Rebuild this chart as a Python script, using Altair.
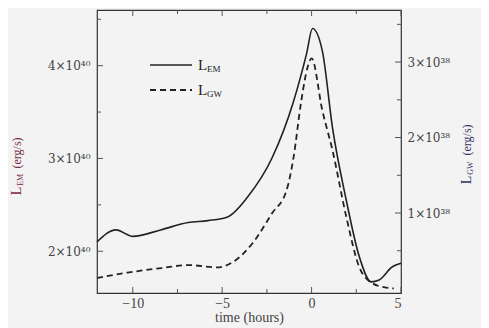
import altair as alt
import pandas as pd

# L_EM (units of 1e40 erg/s) vs time (hours)
em_t = [-12, -10.94, -10.0, -8.44, -6.9, -5.8, -4.7, -3.6, -2.2, -1.05, -0.28, 0.05, 0.6, 1.17, 1.94, 2.67, 3.33, 3.78, 4.5, 5.0]
em_v = [2.10, 2.23, 2.16, 2.23, 2.31, 2.33, 2.37, 2.58, 3.01, 3.59, 4.13, 4.40, 4.16, 3.33, 2.55, 1.94, 1.67, 1.69, 1.83, 1.87]

# L_GW (units of 1e38 erg/s) vs time (hours)
gw_t = [-12, -10.3, -8.4, -6.9, -5.3, -4.4, -3.3, -2.2, -1.4, -1.0, -0.6, -0.2, 0.0, 0.6, 1.17, 1.94, 2.67, 3.4, 4.2, 4.6]
gw_v = [0.14, 0.21, 0.27, 0.31, 0.28, 0.35, 0.60, 1.00, 1.30, 1.75, 2.45, 2.95, 3.05, 2.36, 1.83, 0.95, 0.28, 0.07, 0.01, 0.0]

x_ticks_major = [-10, -5, 0, 5]
x_ticks_minor = [-7.5, -2.5, 2.5]
left_major = [2, 3, 4]
left_minor = [2.5, 3.5, 4.5]
right_major = [1, 2, 3]
right_minor = [0.5, 1.5, 2.5, 3.5]

X_DOM = [-12, 5]
L_DOM = [1.55, 4.6]
R_DOM = [-0.06, 3.69]
W, H = 304, 283
FONT = "Liberation Serif"
LFONT = "DejaVu Serif"
LINE = "#222222"
TICK = "#555555"

em = pd.DataFrame({"t": em_t, "v": em_v})
gw = pd.DataFrame({"t": gw_t, "v": gw_v})

xs = alt.Scale(domain=X_DOM, nice=False, zero=False)
ls = alt.Scale(domain=L_DOM, nice=False, zero=False)
rs = alt.Scale(domain=R_DOM, nice=False, zero=False)

xaxis = alt.Axis(values=x_ticks_major, title="time (hours)", grid=False, domain=False,
                 ticks=False, labelPadding=3, labelFont=FONT, labelFontSize=14,
                 labelColor="#444", titleFont=FONT, titleFontSize=14, titleFontWeight="normal",
                 titleColor="#444", titlePadding=0, format="d")

left_axis = alt.Axis(values=left_major, orient="left", title=None, grid=False, domain=False,
                     ticks=False, labelExpr="datum.value + '×10⁴⁰'", labelFont=LFONT,
                     labelFontSize=12, labelColor="#444", labelPadding=7)
right_axis = alt.Axis(values=right_major, orient="right", title=None, grid=False, domain=False,
                      ticks=False, labelExpr="datum.value + '×10³⁸'", labelFont=LFONT,
                      labelFontSize=12, labelColor="#444", labelPadding=6)

em_line = alt.Chart(em).mark_line(color=LINE, strokeWidth=1.6, interpolate="monotone").encode(
    x=alt.X("t:Q", scale=xs, axis=xaxis),
    y=alt.Y("v:Q", scale=ls, axis=left_axis),
)

gw_line = alt.Chart(gw).mark_line(color=LINE, strokeWidth=1.8, strokeDash=[6, 4],
                                   interpolate="monotone").encode(
    x=alt.X("t:Q", scale=xs, axis=xaxis),
    y=alt.Y("v:Q", scale=rs, axis=right_axis),
)


def ytick_layer(vals, scale, axis, side, length):
    d = pd.DataFrame({"v": vals})
    if side == "left":
        x0, x1 = 0, length
    else:
        x0, x1 = W - length, W
    return alt.Chart(d).mark_rule(color=TICK).encode(
        y=alt.Y("v:Q", scale=scale, axis=axis), x=alt.value(x0), x2=alt.value(x1))


def xtick_layers(vals, length):
    d = pd.DataFrame({"t": vals})
    bot = alt.Chart(d).mark_rule(color=TICK).encode(
        x=alt.X("t:Q", scale=xs, axis=xaxis), y=alt.value(H), y2=alt.value(H - length))
    top = alt.Chart(d).mark_rule(color=TICK).encode(
        x=alt.X("t:Q", scale=xs, axis=xaxis), y=alt.value(0), y2=alt.value(length))
    return [bot, top]


left_group = alt.layer(
    em_line,
    ytick_layer(left_major, ls, left_axis, "left", 6),
    ytick_layer(left_minor, ls, left_axis, "left", 4),
    *xtick_layers(x_ticks_major, 6),
    *xtick_layers(x_ticks_minor, 4),
)
right_group = alt.layer(
    gw_line,
    ytick_layer(right_major, rs, right_axis, "right", 6),
    ytick_layer(right_minor, rs, right_axis, "right", 4),
)

overlay = []
# legend
overlay.append(alt.Chart(pd.DataFrame({"k": ["EM"]})).mark_rule(color=LINE, strokeWidth=1.6).encode(
    x=alt.value(53), x2=alt.value(95), y=alt.value(55)))
overlay.append(alt.Chart(pd.DataFrame({"k": ["GW"]})).mark_rule(color=LINE, strokeWidth=1.8,
                                                                 strokeDash=[6, 4]).encode(
    x=alt.value(53), x2=alt.value(95), y=alt.value(80)))
for yy, sub in [(55, "EM"), (80, "GW")]:
    overlay.append(alt.Chart(pd.DataFrame({"s": ["L"]})).mark_text(
        font=FONT, fontSize=15, color="#222", align="left", baseline="middle").encode(
        text="s:N", x=alt.value(101), y=alt.value(yy)))
    overlay.append(alt.Chart(pd.DataFrame({"s": [sub]})).mark_text(
        font=FONT, fontSize=9, color="#222", align="left", baseline="middle").encode(
        text="s:N", x=alt.value(110), y=alt.value(yy + 4)))

# axis titles (rotated)
def vtext(s, size, color, x, y):
    return alt.Chart(pd.DataFrame({"s": [s]})).mark_text(
        font=FONT, fontSize=size, color=color, angle=270, align="center", baseline="middle").encode(
        text="s:N", x=alt.value(x), y=alt.value(y))

EMC = "#7a2a45"
GWC = "#33336a"
overlay += [
    vtext("L", 14, EMC, -80, 181),
    vtext("EM", 8, EMC, -76, 170),
    vtext("(erg/s)", 12, EMC, -80, 143),
    vtext("L", 14, GWC, W + 66, 170),
    vtext("GW", 8, GWC, W + 70, 158),
    vtext("(erg/s)", 12, GWC, W + 66, 130),
]

chart = alt.layer(left_group, right_group, *overlay).resolve_scale(
    y="independent"
).properties(
    width=W, height=H,
    autosize=alt.AutoSizeParams(type="none"),
    padding={"left": 89, "top": 2, "right": 80, "bottom": 35},
    background="#f3f3f3",
).configure_view(stroke="#333", strokeWidth=1.2)

chart.save("out.html", embed_options={"renderer": "svg", "actions": False})
